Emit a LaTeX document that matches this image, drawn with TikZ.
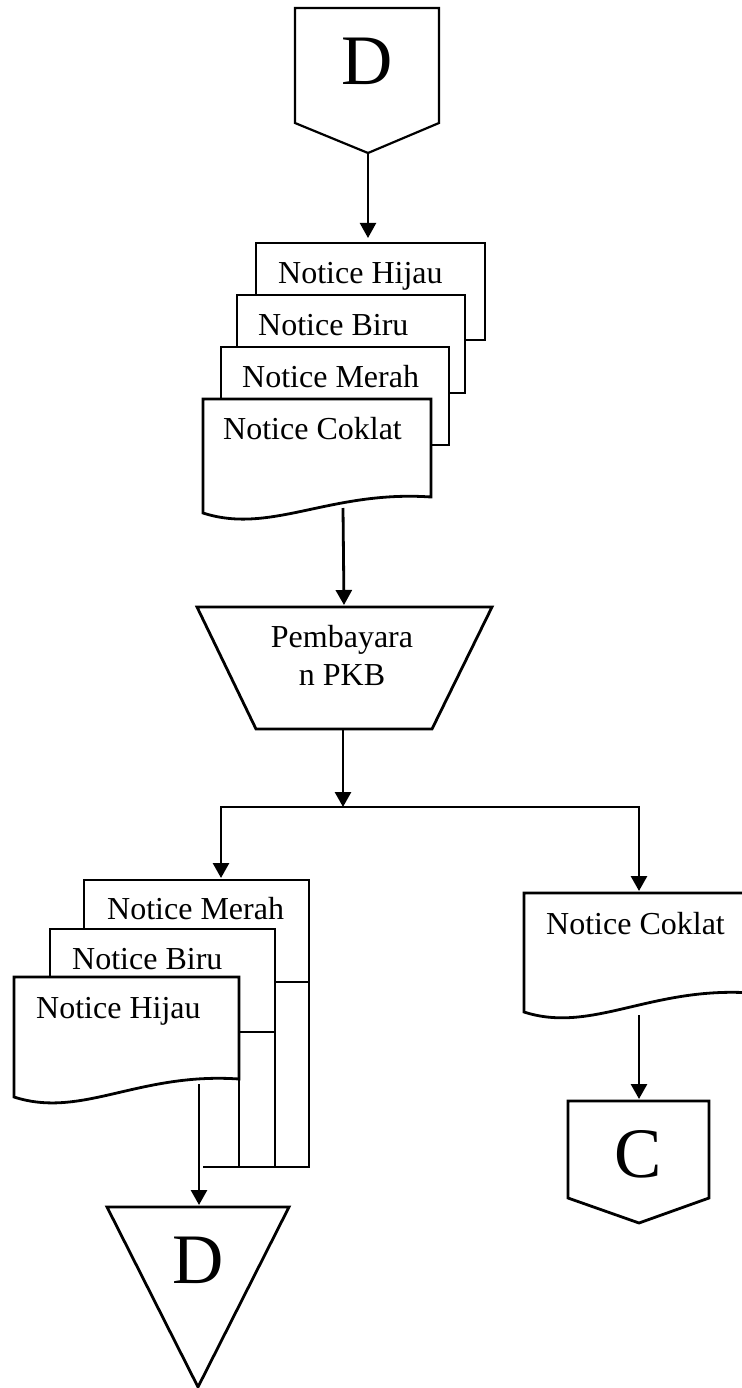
\documentclass[tikz,border=0pt]{standalone}
\usepackage{fontspec}
\setmainfont{Liberation Serif}
\usetikzlibrary{arrows.meta}
\begin{document}
\begin{tikzpicture}[x=1pt,y=-1pt,
  shp/.style={draw=black,line width=2.8pt,fill=white,line join=miter},
  lbl/.style={inner sep=0pt,anchor=base west,font=\fontsize{32}{38}\selectfont},
  ctr/.style={inner sep=0pt,anchor=base,font=\fontsize{32}{38}\selectfont},
  big/.style={inner sep=0pt,anchor=base,font=\fontsize{71}{80}\selectfont},
  arr/.style={draw=black,line width=2.8pt,-{Triangle[length=15pt,width=16pt]}},
  ln/.style={draw=black,line width=2.8pt}]
\useasboundingbox (0,0) rectangle (741,1388);

% top off-page connector D
\draw[shp,line width=2.2pt] (295,8) -- (439,8) -- (439,123) -- (368,153) -- (295,123) -- cycle;
\coordinate (DtopOut) at (368,153);
\node[big] (Dtop) at (367,85) {D};

% upper stack of documents
\draw[shp] (256,243) rectangle (485,340);
\draw[shp] (237,295) rectangle (465,393);
\draw[shp] (221,347) rectangle (449,445);
\draw[shp] (203,399) -- (431,399) -- (431,497) .. controls (330,490) and (271,535) .. (203,513) -- cycle;
\node[lbl] (uHijau) at (278,283) {Notice Hijau};
\node[lbl] (uBiru) at (258,335) {Notice Biru};
\node[lbl] (uMerah) at (242,387) {Notice Merah};
\node[lbl] (uCoklat) at (223,439) {Notice Coklat};
\coordinate (stkIn) at (368,238);
\coordinate (stkOut) at (343,508);
\draw[arr,line width=2.2pt] (DtopOut) -- (stkIn);

% manual operation
\draw[shp] (197,607) -- (492,607) -- (432,729) -- (256,729) -- cycle;
\node[ctr] (tPem) at (342,647) {Pembayara};
\node[ctr] (tPkb) at (342,685) {n PKB};
\coordinate (trIn) at (344,605);
\coordinate (trOut) at (343,729);
\draw[arr] (stkOut) -- (trIn);

% branch
\coordinate (jn) at (343,807);
\coordinate (mIn) at (221,878);
\coordinate (cIn) at (639,891);
\draw[arr] (trOut) -- (jn);
\draw[arr] (jn) -| (mIn);
\draw[arr] (jn) -| (cIn);

% lower-left stack
\draw[shp] (84,880) rectangle (309,982);
\draw[shp] (50,929) rectangle (275,1032);
\draw[shp] (14,977) -- (239,977) -- (239,1079) .. controls (138,1072) and (82,1119) .. (14,1097) -- cycle;
\draw[ln] (309,982) -- (309,1167) -- (203,1167);
\draw[ln] (275,1032) -- (275,1167);
\draw[ln] (239,1079) -- (239,1167);
\node[lbl] (lMerah) at (107,919) {Notice Merah};
\node[lbl] (lBiru) at (72,969) {Notice Biru};
\node[lbl] (lHijau) at (36,1018) {Notice Hijau};
\coordinate (hOut) at (199,1084);
\coordinate (triIn) at (199,1205);
\draw[arr] (hOut) -- (triIn);

% off-page triangle D
\draw[shp] (107,1207) -- (289,1207) -- (198,1387) -- cycle;
\node[big] (Dbot) at (198,1283) {D};

% right document
\draw[shp] (524,893) -- (752,893) -- (752,993) .. controls (651,986) and (592,1034) .. (524,1012) -- cycle;
\node[lbl] (rCoklat) at (546,934) {Notice Coklat};
\coordinate (rOut) at (639,1015);
\coordinate (cConIn) at (639,1099);
\draw[arr] (rOut) -- (cConIn);

% off-page connector C
\draw[shp] (568,1101) -- (709,1101) -- (709,1198) -- (639,1223) -- (568,1198) -- cycle;
\node[big] (Ccon) at (638,1177) {C};
\end{tikzpicture}
\end{document}
